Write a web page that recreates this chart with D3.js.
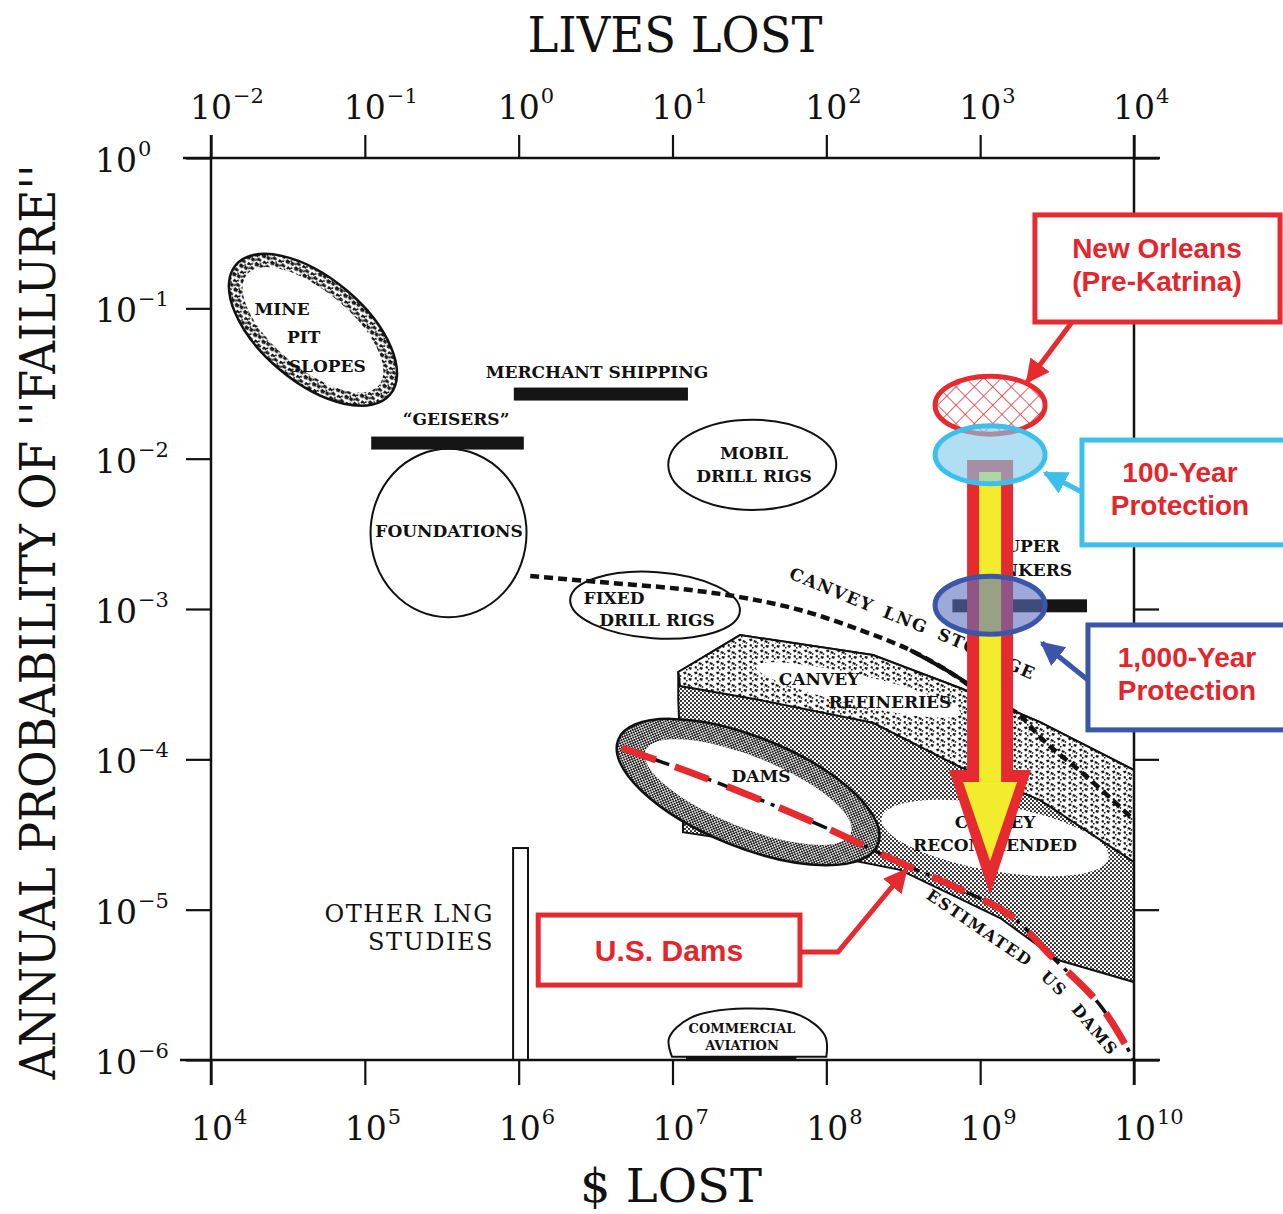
<!DOCTYPE html>
<html>
<head>
<meta charset="utf-8">
<script src="https://cdn.jsdelivr.net/npm/d3@7"></script>
<style>
  body { margin: 0; background: #fff; }
  svg { display: block; }
  text { font-family: "DejaVu Serif", "Liberation Serif", serif; fill: #111; }
</style>
</head>
<body>
<svg id="chart" width="1283" height="1214"></svg>
<script>
// ---- axes ----
const dollarTicks = [1e4, 1e5, 1e6, 1e7, 1e8, 1e9, 1e10];
const livesTicks = [1e-2, 1e-1, 1e0, 1e1, 1e2, 1e3, 1e4];
const probTicks = [1e0, 1e-1, 1e-2, 1e-3, 1e-4, 1e-5, 1e-6];

// ---- ellipses: centre [$ lost, probability], half axes in decades, tilt ----
const outlineEllipses = [
  { name: "foundations", c: [3.5e5, 3.2e-3], rx: 0.507, ry: 0.56, rot: 0 },
  { name: "mobil", c: [3.3e7, 9.1e-3], rx: 0.546, ry: 0.30, rot: 0 },
  { name: "fixed", c: [7.7e6, 1.06e-3], rx: 0.553, ry: 0.22, rot: 4 }
];
const ringEllipses = [
  { name: "mine", c: [4.6e4, 7.2e-2], rx: 0.655, ry: 0.345, rot: 40, rxIn: 0.56, ryIn: 0.255 },
  { name: "dams", c: [3.1e7, 6.06e-5], rx: 0.91, ry: 0.366, rot: 22, rxIn: 0.72, ryIn: 0.235 }
];
const whiteLenses = [
  { name: "recommended", c: [1.25e9, 3.0e-5], rx: 0.75, ry: 0.22, rot: 10 },
  { name: "refineries", c: [1.61e8, 2.89e-4], rx: 0.683, ry: 0.10, rot: 13 }
];

// ---- bands (Canvey) ----
const canveyBand = [
  [1.09e7, 3.81e-4], [2.75e7, 6.71e-4], [2.01e8, 4.94e-4], [7.40e8, 2.98e-4],
  [2.45e9, 1.77e-4], [1e10, 8.49e-5], [1e10, 3.3e-6], [3.21e9, 4.62e-6],
  [1.35e9, 8.8e-6], [3.01e8, 1.84e-5], [6.74e7, 2.49e-5], [1.17e7, 3.28e-5],
  [1.17e7, 4.26e-5], [1.09e7, 2.48e-4]
];
const refineryBand = [
  [1.09e7, 3.81e-4], [2.75e7, 6.71e-4], [2.01e8, 4.94e-4], [7.40e8, 2.98e-4],
  [2.45e9, 1.77e-4], [1e10, 8.49e-5], [1e10, 2.07e-5], [2.45e9, 5.36e-5],
  [7.4e8, 8.89e-5], [2.01e8, 1.75e-4], [3.71e7, 2.48e-4], [1.12e7, 3.07e-4]
];

// ---- bars: $ range at one probability ----
const bars = [
  { name: "geisers", x0: 1.1e5, x1: 1.08e6, p: 1.27e-2 },
  { name: "merchant", x0: 9.3e5, x1: 1.26e7, p: 2.69e-2 },
  { name: "tankers", x0: 6.6e8, x1: 4.95e9, p: 1.05e-3 }
];
const otherLng = { x0: 9.2e5, x1: 1.15e6, top: 2.57e-5, bottom: 1e-6 };
const aviation = [
  [9.93e6, 1.05e-6], [9.5e6, 1.4e-6], [1.3e7, 1.9e-6], [2.96e7, 2.2e-6],
  [6.74e7, 1.98e-6], [9.8e7, 1.45e-6], [1.0e8, 1.05e-6]
];

// ---- lines ----
const lngStorage = [
  [1.19e6, 1.66e-3], [3.38e6, 1.51e-3], [1.12e7, 1.36e-3], [2.75e7, 1.20e-3],
  [6.74e7, 9.85e-4], [1.66e8, 7.25e-4], [3.5e8, 5.33e-4], [6.37e8, 3.79e-4],
  [1.16e9, 2.48e-4], [1.74e9, 2.03e-4], [2.57e9, 1.34e-4], [4.95e9, 7.63e-5],
  [1e10, 3.95e-5]
];
const lngSolid = [[3.5e8, 5.33e-4], [6.37e8, 3.79e-4], [8.6e8, 3.12e-4]];
const usDams = [
  [4.7e6, 1.19e-4], [1.3e7, 8.2e-5], [3.7e7, 5.4e-5], [1.06e8, 3.4e-5],
  [2.6e8, 2.2e-5], [6.4e8, 1.46e-5], [1.56e9, 9.2e-6], [2.85e9, 4.99e-6],
  [6.01e9, 2.32e-6], [1e10, 1e-6]
];
const lngLabelPath = [[5.64e7, 1.61e-3], [1.92e8, 9.55e-4], [5.48e8, 6.22e-4], [1.96e9, 3.53e-4]];
const damsLabelPath = [[4.4e8, 1.2e-5], [1.45e9, 5.39e-6], [3.07e9, 2.83e-6], [6.49e9, 1.13e-6], [8.5e9, 0.9e-6]];
const lngWords = ["CANVEY", "LNG", "STORAGE"];
const damsWords = ["ESTIMATED", "US", "DAMS"];

// ---- labels [$ lost, probability] ----
const labels = [
  { t: "MINE", at: [2.9e4, 9.0e-2] },
  { t: "PIT", at: [4.0e4, 5.88e-2] },
  { t: "SLOPES", at: [5.7e4, 3.77e-2] },
  { t: "\u201CGEISERS\u201D", at: [3.92e5, 1.67e-2] },
  { t: "MERCHANT SHIPPING", at: [3.23e6, 3.44e-2] },
  { t: "FOUNDATIONS", at: [3.53e5, 3.01e-3] },
  { t: "MOBIL", at: [3.39e7, 9.95e-3] },
  { t: "DRILL RIGS", at: [3.39e7, 7.0e-3] },
  { t: "FIXED", at: [4.17e6, 1.08e-3] },
  { t: "DRILL RIGS", at: [7.93e6, 7.7e-4] },
  { t: "CANVEY", at: [8.96e7, 3.12e-4] },
  { t: "REFINERIES", at: [2.59e8, 2.19e-4] },
  { t: "DAMS", at: [3.76e7, 7.07e-5] },
  { t: "CANVEY", at: [1.25e9, 3.5e-5] },
  { t: "RECOMMENDED", at: [1.25e9, 2.44e-5] },
  { t: "SUPER", at: [3.3e9, 2.39e-3], end: true },
  { t: "TANKERS", at: [3.96e9, 1.66e-3], end: true }
];
const plainLabels = [
  { t: "OTHER LNG", at: [6.91e5, 8.27e-6] },
  { t: "STUDIES", at: [6.91e5, 5.39e-6] }
];
const smallLabels = [
  { t: "COMMERCIAL", at: [2.83e7, 1.51e-6] },
  { t: "AVIATION", at: [2.83e7, 1.16e-6] }
];

// ---- highlighted overlay ----
const arrowDown = { x: 1.16e9, top: 9.8e-3, neck: 8.5e-5, tip: 1.25e-5 };
const highlights = [
  { name: "preKatrina", c: [1.16e9, 2.27e-2] },
  { name: "year100", c: [1.16e9, 1.06e-2] },
  { name: "year1000", c: [1.16e9, 1.06e-3] }
];
const callouts = [
  { name: "preKatrina", lines: ["New Orleans", "(Pre-Katrina)"], box: [[2.27e9, 0.418], [8.9e10, 8.11e-2]], tx: 1.41e10,
    path: [[3.96e9, 8.11e-2], [2.02e9, 3.24e-2]] },
  { name: "year100", lines: ["100-Year", "Protection"], box: [[4.59e9, 1.33e-2], [1.11e11, 2.67e-3]], tx: 1.99e10,
    path: [[4.59e9, 6.0e-3], [2.64e9, 8.03e-3]] },
  { name: "year1000", lines: ["1,000-Year", "Protection"], box: [[5.02e9, 7.83e-4], [1.11e11, 1.57e-4]], tx: 2.21e10,
    path: [[5.02e9, 3.37e-4], [2.52e9, 5.94e-4]] },
  { name: "dams", lines: ["U.S. Dams"], box: [[1.34e6, 9.21e-6], [6.74e7, 3.15e-6]], tx: 9.49e6,
    path: [[6.74e7, 5.23e-6], [1.19e8, 5.23e-6], [3.3e8, 1.84e-5]] }
];

const RED = "#e52b2f", CYAN = "#3dbfeb", BLUE = "#3b55a8", TXT_RED = "#e2262b";
const boxColor = { preKatrina: RED, year100: CYAN, year1000: BLUE, dams: RED };

const svg = d3.select("#chart");
const x = d3.scaleLog().domain([1e4, 1e10]).range([211, 1134]);
const xTop = d3.scaleLog().domain([1e-2, 1e4]).range([211, 1134]);
const y = d3.scaleLog().domain([1e-6, 1]).range([1060, 158]);
const line = d3.line().x(d => x(d[0])).y(d => y(d[1]));
const smooth = d3.line().x(d => x(d[0])).y(d => y(d[1])).curve(d3.curveCatmullRom.alpha(0.5));

// ---- patterns ----
const defs = svg.append("defs");
function dots(id, s, r, col) {
  const p = defs.append("pattern").attr("id", id).attr("patternUnits", "userSpaceOnUse")
    .attr("width", s).attr("height", s);
  p.append("rect").attr("width", s).attr("height", s).attr("fill", "#fff");
  p.append("circle").attr("cx", s / 4).attr("cy", s / 4).attr("r", r).attr("fill", col);
  p.append("circle").attr("cx", 3 * s / 4).attr("cy", 3 * s / 4).attr("r", r).attr("fill", col);
}
dots("stipple", 4, 1.1, "#222");
dots("stippleDark", 3.4, 1.1, "#151515");
function speckle(id, d) {
  const p = defs.append("pattern").attr("id", id).attr("patternUnits", "userSpaceOnUse")
    .attr("width", 11).attr("height", 11);
  p.append("rect").attr("width", 11).attr("height", 11).attr("fill", "#fff");
  p.append("path").attr("fill", "#1a1a1a").attr("d", d);
}
speckle("rough", "M1,1l3,-0.5l0.5,2l-2.5,1z M6,2l3,1l-1,2l-2.5,-1z M2,6l2,0.5l-0.5,2.5l-2,-1z M7,7l3,0.5l-1,2.5l-2.5,-1z M5,4.5l1,0.5l-0.5,1z M9,4l1.5,0.5l-0.5,1.5l-1.5,-0.5z M4,9l1.5,0l0,1.5l-1.5,0z");
speckle("roughDark", "M0,0h4v2h-2v1h-2z M5,1l4,0.5l0,2l-3,1l-1.5,-1z M0,5l3,-0.5l1,3l-2,1l-2,-1z M6,6l4,0l0.5,3l-3,1l-2,-1.5z M3.5,3.5l2,0.5l-0.5,2l-1.5,-0.5z M9.5,3.5l1.5,0.5v2l-1.5,-0.5z M3,9.5l2,0l0,1.5l-2,0z");
const hatch = defs.append("pattern").attr("id", "hatch").attr("patternUnits", "userSpaceOnUse")
  .attr("width", 13).attr("height", 13).attr("patternTransform", "rotate(45)");
hatch.append("rect").attr("width", 13).attr("height", 13).attr("fill", "#fff");
hatch.append("path").attr("d", "M0,0V13M0,0H13").attr("stroke", RED).attr("stroke-width", 1.5);
[["red", RED], ["cyan", CYAN], ["blue", BLUE]].forEach(([k, c]) => {
  defs.append("marker").attr("id", "head-" + k).attr("viewBox", "0 0 10 10")
    .attr("refX", 9).attr("refY", 5).attr("markerUnits", "userSpaceOnUse")
    .attr("markerWidth", 24).attr("markerHeight", 24).attr("orient", "auto")
    .append("path").attr("d", "M0,0L10,5L0,10z").attr("fill", c);
});

function geo(d, rxKey = "rx", ryKey = "ry") {
  const cx = x(d.c[0]), cy = y(d.c[1]);
  return { cx, cy, rx: x(d.c[0] * Math.pow(10, d[rxKey])) - cx, ry: cy - y(d.c[1] * Math.pow(10, d[ryKey])) };
}
function drawEllipse(g, d, fill, stroke, sw, rxKey, ryKey) {
  const e = geo(d, rxKey, ryKey);
  return g.append("ellipse").attr("cx", e.cx).attr("cy", e.cy).attr("rx", e.rx).attr("ry", e.ry)
    .attr("transform", `rotate(${d.rot || 0},${e.cx},${e.cy})`)
    .attr("fill", fill).attr("stroke", stroke).attr("stroke-width", sw);
}

// ---- Canvey bands and rings ----
const base = svg.append("g");
base.append("path").attr("d", line(canveyBand) + "Z").attr("fill", "url(#stipple)")
  .attr("stroke", "#111").attr("stroke-width", 2);
drawEllipse(base, whiteLenses[0], "#fff", "none", 0);
base.append("path").attr("d", line(refineryBand) + "Z").attr("fill", "url(#rough)")
  .attr("stroke", "#111").attr("stroke-width", 2);
drawEllipse(base, whiteLenses[1], "#fff", "none", 0);
ringEllipses.forEach(d => {
  drawEllipse(base, d, d.name === "dams" ? "url(#stippleDark)" : "url(#roughDark)", "#111", 2.5);
  drawEllipse(base, d, "#fff", "none", 0, "rxIn", "ryIn");
});
outlineEllipses.forEach(d => drawEllipse(base, d, "none", "#111", 2));

// commercial aviation dome
base.append("path").attr("d", smooth(aviation) + "Z").attr("fill", "#fff").attr("stroke", "#111").attr("stroke-width", 2);
base.append("line").attr("x1", x(aviation[0][0]) + 14).attr("x2", x(aviation[aviation.length - 1][0]) - 30)
  .attr("y1", y(1e-6) - 2).attr("y2", y(1e-6) - 2).attr("stroke", "#111").attr("stroke-width", 4);

// bars
base.selectAll("rect.bar").data(bars).join("rect").attr("class", "bar")
  .attr("x", d => x(d.x0)).attr("width", d => x(d.x1) - x(d.x0))
  .attr("y", d => y(d.p) - 6.5).attr("height", 13).attr("fill", "#151515");
base.append("rect").attr("x", x(otherLng.x0)).attr("width", x(otherLng.x1) - x(otherLng.x0))
  .attr("y", y(otherLng.top)).attr("height", y(otherLng.bottom) - y(otherLng.top))
  .attr("fill", "#fff").attr("stroke", "#111").attr("stroke-width", 2);

// lines
base.append("path").attr("d", smooth(lngStorage)).attr("fill", "none").attr("stroke", "#111")
  .attr("stroke-width", 4.5).attr("stroke-dasharray", "9 5");
base.append("path").attr("d", smooth(lngSolid)).attr("fill", "none").attr("stroke", "#111").attr("stroke-width", 4);
base.append("path").attr("d", smooth(usDams)).attr("fill", "none").attr("stroke", "#111")
  .attr("stroke-width", 3.5).attr("stroke-dasharray", "16 7 4 7");
base.append("path").attr("d", smooth(usDams)).attr("fill", "none").attr("stroke", RED)
  .attr("stroke-width", 7).attr("stroke-dasharray", "36 20");

// labels
const lab = svg.append("g").attr("font-weight", "bold").attr("font-size", 17);
lab.selectAll("text.l").data(labels).join("text").attr("class", "l")
  .attr("x", d => x(d.at[0])).attr("y", d => y(d.at[1]))
  .attr("text-anchor", d => d.end ? "end" : "middle").text(d => d.t);
lab.selectAll("text.s").data(smallLabels).join("text").attr("class", "s")
  .attr("x", d => x(d.at[0])).attr("y", d => y(d.at[1])).attr("font-size", 13)
  .attr("text-anchor", "middle").text(d => d.t);
svg.selectAll("text.p").data(plainLabels).join("text").attr("class", "p")
  .attr("x", d => x(d.at[0])).attr("y", d => y(d.at[1])).attr("font-size", 24)
  .attr("letter-spacing", 1.5).attr("text-anchor", "end").text(d => d.t);

// curved labels: one rotated word at a time along a guide path
function wordsAlong(guide, words, size, spacing, gap) {
  const node = svg.append("path").attr("d", smooth(guide)).attr("fill", "none").attr("stroke", "none").node();
  const total = node.getTotalLength();
  let off = 0;
  words.forEach(w => {
    const t = lab.append("text").attr("font-size", size).attr("letter-spacing", spacing).text(w);
    const len = t.node().getComputedTextLength();
    const p0 = node.getPointAtLength(off), p1 = node.getPointAtLength(Math.min(off + len, total));
    const ang = Math.atan2(p1.y - p0.y, p1.x - p0.x) * 180 / Math.PI;
    t.attr("transform", `translate(${p0.x},${p0.y}) rotate(${ang})`);
    off += len + gap;
  });
}
wordsAlong(lngLabelPath, lngWords, 17, 1.5, 12);
wordsAlong(damsLabelPath, damsWords, 16, 1.5, 16);

// ---- frame and axes ----
const axes = svg.append("g").attr("stroke", "#111").attr("stroke-width", 2.5);
const L = x(1e4), R = x(1e10), T = y(1), B = y(1e-6);
[[L - 28, T, R + 26, T], [L - 31, B, R + 26, B], [L, T - 23, L, B + 25], [R, T - 23, R, B + 25]].forEach(s =>
  axes.append("line").attr("x1", s[0]).attr("y1", s[1]).attr("x2", s[2]).attr("y2", s[3]));
function ticks(g, axis) { g.call(axis.tickFormat("")).call(a => a.select(".domain").remove())
  .selectAll("line").attr("stroke", "#111").attr("stroke-width", 2.2); }
svg.append("g").attr("transform", `translate(0,${B})`).call(g => ticks(g, d3.axisBottom(x).tickValues(dollarTicks).tickSize(25)));
svg.append("g").attr("transform", `translate(0,${T})`).call(g => ticks(g, d3.axisTop(xTop).tickValues(livesTicks).tickSize(23)));
svg.append("g").attr("transform", `translate(${L},0)`).call(g => ticks(g, d3.axisLeft(y).tickValues(probTicks).tickSize(25)));
svg.append("g").attr("transform", `translate(${R},0)`).call(g => ticks(g, d3.axisRight(y).tickValues(probTicks).tickSize(25)));

// power-of-ten tick labels: base and exponent as neighbouring texts
function powLabel(px, py, v) {
  const e = Math.round(Math.log10(v));
  const b = svg.append("text").attr("x", px).attr("y", py).attr("font-size", 33).text("10");
  const w = b.node().getComputedTextLength();
  svg.append("text").attr("x", px + w + 1).attr("y", py - 16).attr("font-size", 21)
    .text(e < 0 ? "\u2212" + (-e) : e);
}
dollarTicks.forEach(v => powLabel(x(v) - 20, 1140, v));
livesTicks.forEach(v => powLabel(xTop(v) - 21, 119, v));
probTicks.forEach(v => powLabel(95, y(v) + 14, v));

svg.append("text").attr("x", 675).attr("y", 52).attr("text-anchor", "middle").attr("font-size", 48)
  .attr("textLength", 295).attr("lengthAdjust", "spacingAndGlyphs").text("LIVES LOST");
svg.append("text").attr("x", 671).attr("y", 1202).attr("text-anchor", "middle").attr("font-size", 46)
  .attr("textLength", 182).attr("lengthAdjust", "spacingAndGlyphs").text("$ LOST");
svg.append("text").attr("transform", "translate(55,622) rotate(-90)").attr("text-anchor", "middle")
  .attr("font-size", 49).attr("textLength", 915).attr("lengthAdjust", "spacingAndGlyphs")
  .text("ANNUAL PROBABILITY OF ''FAILURE''");

// ---- overlay: big arrow ----
const ov = svg.append("g");
const ax = x(arrowDown.x), aTop = y(arrowDown.top), aNeck = y(arrowDown.neck), aTip = y(arrowDown.tip);
ov.append("rect").attr("x", ax - 23).attr("y", aTop).attr("width", 46).attr("height", aNeck - aTop + 2).attr("fill", RED);
ov.append("path").attr("d", `M${ax - 41},${aNeck}L${ax + 41},${aNeck}L${ax},${aTip}Z`).attr("fill", RED);
ov.append("rect").attr("x", ax - 11).attr("y", aTop + 12).attr("width", 22).attr("height", aNeck - aTop).attr("fill", "#f2ec2c");
ov.append("path").attr("d", `M${ax - 27},${aNeck + 12}L${ax + 27},${aNeck + 12}L${ax},${aTip - 34}Z`).attr("fill", "#f2ec2c");

// highlight ellipses
const hl = Object.fromEntries(highlights.map(d => [d.name, d]));
function hEllipse(d, fill, op, stroke) {
  ov.append("ellipse").attr("cx", x(d.c[0])).attr("cy", y(d.c[1])).attr("rx", 55).attr("ry", 29)
    .attr("fill", fill).attr("fill-opacity", op).attr("stroke", stroke).attr("stroke-width", 5);
}
hEllipse(hl.preKatrina, "url(#hatch)", 1, RED);
hEllipse(hl.year100, "#7fcbed", 0.62, CYAN);
hEllipse(hl.year1000, "#5a6fc0", 0.6, BLUE);

// ---- callouts ----
const cg = svg.append("g");
callouts.forEach(c => {
  const col = boxColor[c.name];
  const key = col === CYAN ? "cyan" : col === BLUE ? "blue" : "red";
  cg.append("path").attr("d", line(c.path)).attr("fill", "none").attr("stroke", col)
    .attr("stroke-width", 5).attr("marker-end", `url(#head-${key})`);
  const x0 = x(c.box[0][0]), x1 = x(c.box[1][0]), y0 = y(c.box[0][1]), y1 = y(c.box[1][1]);
  cg.append("rect").attr("x", x0).attr("y", y0).attr("width", x1 - x0).attr("height", y1 - y0)
    .attr("fill", "#fff").attr("stroke", col).attr("stroke-width", 5);
  const cy = (y0 + y1) / 2;
  c.lines.forEach((s, i) => {
    cg.append("text").attr("x", x(c.tx)).attr("y", c.lines.length === 1 ? cy + 11 : cy - 10 + 33 * i)
      .attr("text-anchor", "middle").style("font-family", "'Liberation Sans', Arial, sans-serif")
      .attr("font-weight", "bold").attr("font-size", c.lines.length === 1 ? 30 : 28)
      .style("fill", TXT_RED).text(s);
  });
});
</script>
</body>
</html>
